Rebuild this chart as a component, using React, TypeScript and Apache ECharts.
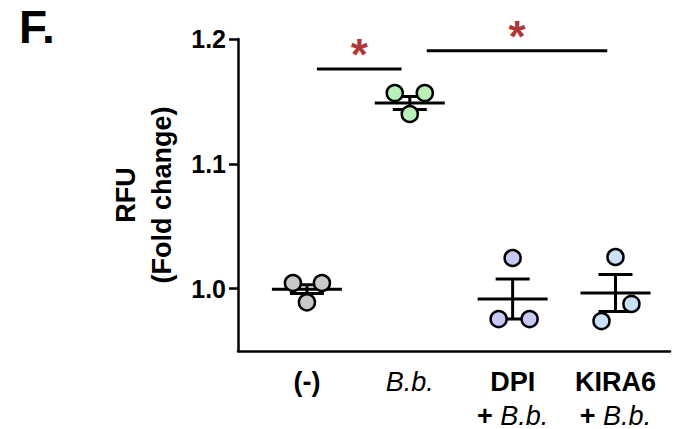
import React, { useEffect, useRef } from 'react';
import * as echarts from 'echarts';

// Groups (x categories)
const groupNames = ['(-)', 'B.b.', 'DPI', 'KIRA6'];
const groupSuffix = ['', '', '+ B.b.', '+ B.b.'];
const groupItalic = [false, true, false, false];
const groupColors = ['#c9c9c9', '#b9efb9', '#c8c8f6', '#c9e2f7'];

// Individual replicate values (RFU fold change)
const pointValues = [
  [1.0045, 1.0045, 0.989],
  [1.1567, 1.1567, 1.1399],
  [1.0245, 0.9756, 0.9756],
  [1.0253, 0.9877, 0.974],
];
// horizontal scatter of replicates inside each group (in category units)
const pointJitter = [
  [-0.136, 0.146, 0],
  [-0.146, 0.146, 0],
  [0, -0.136, 0.165],
  [0, 0.155, -0.136],
];

// Mean and SEM per group
const means = [0.9995, 1.1487, 0.9917, 0.9965];
const sems = [0.0035, 0.0052, 0.016, 0.0148];

// Significance bars: [x start, x end, y]
const sigBars = [
  [1.097, 1.92, 1.176],
  [2.165, 3.92, 1.1905],
];
const sigLabels = ['*', '*'];

// y ticks
const yTicks = [1.0, 1.1, 1.2];

const FONT = 'Arial, "Liberation Sans", Helvetica, sans-serif';

export default function App() {
  const ref = useRef<HTMLDivElement>(null);
  useEffect(() => {
    if (!ref.current) return;
    const chart = echarts.init(ref.current, null, { renderer: 'svg' });

    const scatterSeries = pointValues.map((vals, g) => ({
      type: 'scatter',
      name: groupNames[g],
      z: 4,
      data: vals.map((v, k) => [g + 1 + pointJitter[g][k], v]),
      symbol: 'circle',
      symbolSize: 16,
      itemStyle: { color: groupColors[g], borderColor: '#000', borderWidth: 2.5, opacity: 1 },
      emphasis: { disabled: true },
      silent: true,
    }));

    const meanSeries = {
      type: 'custom',
      z: 3,
      silent: true,
      data: means.map((m, g) => [g + 1, m, sems[g]]),
      renderItem: (params: any, api: any) => {
        const x = api.value(0);
        const m = api.value(1);
        const s = api.value(2);
        const c = api.coord([x, m]);
        const t = api.coord([x, m + s]);
        const b = api.coord([x, m - s]);
        const st = { stroke: '#000', lineWidth: 3 };
        return {
          type: 'group',
          children: [
            { type: 'line', shape: { x1: c[0] - 35, y1: c[1], x2: c[0] + 35, y2: c[1] }, style: st },
            { type: 'line', shape: { x1: c[0], y1: t[1], x2: c[0], y2: b[1] }, style: st },
            { type: 'line', shape: { x1: c[0] - 17, y1: t[1], x2: c[0] + 17, y2: t[1] }, style: st },
            { type: 'line', shape: { x1: c[0] - 17, y1: b[1], x2: c[0] + 17, y2: b[1] }, style: st },
          ],
        };
      },
    };

    const sigLineSeries = sigBars.map((bar) => ({
      type: 'line',
      silent: true,
      symbol: 'none',
      clip: false,
      data: [
        [bar[0], bar[2]],
        [bar[1], bar[2]],
      ],
      lineStyle: { color: '#000', width: 3 },
    }));

    const sigStarSeries = {
      type: 'scatter',
      silent: true,
      clip: false,
      symbolSize: 1,
      itemStyle: { color: 'rgba(0,0,0,0)' },
      data: sigBars.map((bar, i) => ({
        value: [(bar[0] + bar[1]) / 2, bar[2]],
        label: {
          show: true,
          formatter: sigLabels[i],
          position: 'top',
          distance: 0,
          offset: [0, 8],
          color: '#9c0000',
          fontSize: 44,
          fontWeight: 'bold',
          fontFamily: FONT,
        },
      })),
    };

    const xLabelFormatter = (v: number) => {
      const g = Math.round(v) - 1;
      if (g < 0 || g >= groupNames.length) return '';
      const first = groupItalic[g] ? `{i1|${groupNames[g]}}` : `{b1|${groupNames[g]}}`;
      if (!groupSuffix[g]) return first;
      const parts = groupSuffix[g].split(' ');
      return `${first}\n{b2|${parts[0]} }{i2|${parts.slice(1).join(' ')}}`;
    };

    const base = { fontSize: 27, fontFamily: FONT, color: '#000' };

    chart.setOption({
      animation: false,
      backgroundColor: '#fff',
      grid: { left: 238, right: 5, top: 39, bottom: 78, containLabel: false, outerBoundsMode: 'none' },
      graphic: [
        {
          type: 'text',
          left: 19,
          top: 4,
          style: { text: 'F.', font: `bold 46px ${FONT}`, fill: '#000' },
        },
      ],
      xAxis: {
        type: 'value',
        min: 0.33,
        max: 4.53,
        splitLine: { show: false },
        axisLine: { show: true, lineStyle: { color: '#000', width: 2.5 } },
        axisTick: { show: false },
        axisLabel: {
          show: true,
          customValues: [1, 2, 3, 4],
          margin: 11,
          verticalAlign: 'top',
          formatter: xLabelFormatter,
          rich: {
            b1: { ...base, fontWeight: 'bold', lineHeight: 40 },
            i1: { ...base, fontStyle: 'italic', fontWeight: 'normal', lineHeight: 40 },
            b2: { ...base, fontWeight: 'bold', lineHeight: 27 },
            i2: { ...base, fontStyle: 'italic', fontWeight: 'normal', lineHeight: 27 },
          },
        },
      },
      yAxis: {
        type: 'value',
        min: 0.95,
        max: 1.2,
        splitLine: { show: false },
        name: 'RFU\n(Fold change)',
        nameLocation: 'middle',
        nameRotate: 90,
        nameGap: 57,
        nameTextStyle: { fontSize: 27, fontWeight: 'bold', fontFamily: FONT, color: '#000', lineHeight: 36 },
        axisLine: { show: true, lineStyle: { color: '#000', width: 2.5 } },
        axisTick: { show: true, length: 9, customValues: yTicks, lineStyle: { color: '#000', width: 2.5 } },
        axisLabel: {
          customValues: yTicks,
          margin: 12,
          formatter: (v: number) => v.toFixed(1),
          fontSize: 25,
          fontWeight: 'bold',
          fontFamily: FONT,
          color: '#000',
        },
      },
      series: [meanSeries, ...scatterSeries, ...sigLineSeries, sigStarSeries],
    });
    return () => chart.dispose();
  }, []);
  return <div ref={ref} style={{ position: 'fixed', left: 0, top: 0, width: 675, height: 429 }} />;
}
